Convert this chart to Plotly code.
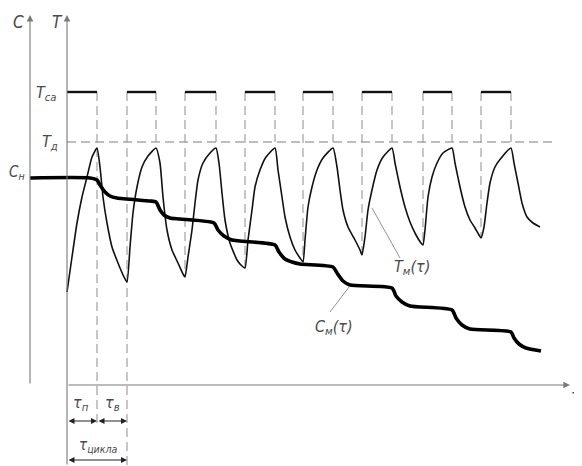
import plotly.graph_objects as go

# ---- data (schematic units; τ measured from the T axis) ----
tau_T = [0, 5, 10, 15, 20, 25, 30, 33, 36, 40, 45, 51, 57, 60, 63, 66, 70, 75, 81, 89,
         93, 96, 100, 105, 111, 116, 118, 121, 125, 128, 131, 136, 143, 149,
         152, 155, 158, 163, 170, 175, 178, 181, 185, 188, 193, 199, 208,
         211, 215, 218, 223, 228, 233, 236, 238, 241, 245, 250, 256, 266,
         270, 273, 276, 281, 288, 293, 295, 298, 301, 305, 310, 316, 325,
         328, 333, 338, 343, 349, 354, 356, 358, 361, 365, 370, 376, 385,
         388, 393, 398, 403, 408, 412, 414, 417, 420, 423, 428, 435, 444,
         447, 451, 455, 460, 466, 473]
T_m = [93, 128, 162, 188, 208, 228, 237, 218, 188, 162, 138, 122, 108, 103, 138, 172, 198, 218, 229, 237,
       222, 188, 155, 135, 122, 111, 108, 128, 155, 182, 205, 222, 232, 237,
       222, 192, 165, 142, 125, 119, 117, 145, 175, 198, 215, 228, 237,
       215, 188, 168, 148, 135, 127, 123, 145, 178, 198, 215, 227, 237,
       218, 195, 175, 158, 145, 135, 130, 148, 175, 195, 215, 228, 237,
       222, 198, 178, 163, 150, 142, 140, 155, 188, 208, 222, 232, 237,
       222, 198, 178, 165, 157, 150, 147, 158, 182, 202, 218, 228, 237,
       222, 202, 182, 168, 162, 158]

tau_C = [-37, 23, 30, 33, 38, 43, 50, 83, 89, 93, 97, 103, 113, 147, 151, 157, 165,
         208, 212, 218, 225, 233, 266, 270, 276, 283, 325, 329, 335, 343,
         385, 389, 395, 403, 444, 447, 452, 459, 474]
C_m = [207, 207, 205, 200, 193, 189, 187, 184, 183, 175, 170, 167, 166, 162, 155, 149, 145,
       140, 133, 126, 123, 121, 118, 112, 104, 100, 97, 89, 83, 79,
       75, 67, 60, 56, 53, 47, 41, 37, 34]

heat_start = [0, 60, 118, 178, 236, 295, 356, 414]
heat_end = [30, 89, 149, 208, 266, 325, 385, 444]
T_ca = 293
T_d = 243
C_n = 207

FONT = "Liberation Sans Narrow, DejaVu Sans Condensed, Roboto, sans-serif"
TXT = "#4a4a4a"
DASH = "#a8a8a8"
AX = "#7a7a7a"

fig = go.Figure()

# T_d dashed level
fig.add_trace(go.Scatter(x=[0, 488], y=[T_d, T_d], mode="lines",
                         line=dict(color=DASH, width=1.3, dash="9px,5px"), hoverinfo="skip"))

# vertical dashed lines
vx, vy = [], []
Tlookup = dict(zip(tau_T, T_m))
for i, e in enumerate(heat_end):
    bottom = -42 if i == 0 else T_d
    vx += [e, e, None]
    vy += [T_ca, bottom, None]
for i, s in enumerate(heat_start):
    if i == 0:
        continue
    bottom = -81 if i == 1 else Tlookup[s]
    vx += [s, s, None]
    vy += [T_ca, bottom, None]
fig.add_trace(go.Scatter(x=vx, y=vy, mode="lines",
                         line=dict(color=DASH, width=1.3, dash="9px,5px"), hoverinfo="skip"))

# T_ca heating segments
sx, sy = [], []
for s, e in zip(heat_start, heat_end):
    sx += [s, e, None]
    sy += [T_ca, T_ca, None]
fig.add_trace(go.Scatter(x=sx, y=sy, mode="lines",
                         line=dict(color="#111", width=2.4), hoverinfo="skip"))

# T_m curve
fig.add_trace(go.Scatter(x=tau_T, y=T_m, mode="lines",
                         line=dict(color="#111", width=1.6, shape="spline", smoothing=0.5),
                         hoverinfo="skip"))
# C_m curve
fig.add_trace(go.Scatter(x=tau_C, y=C_m, mode="lines",
                         line=dict(color="#000", width=3.6, shape="spline", smoothing=0.6),
                         hoverinfo="skip"))

# leader lines
fig.add_trace(go.Scatter(x=[305, 333, None, 282, 263], y=[177, 127, None, 98, 73], mode="lines",
                         line=dict(color="#888", width=0.9), hoverinfo="skip"))

ann = []
def arrow(x, y, ax, ay, both=False, color=AX, w=1.1):
    ann.append(dict(x=x, y=y, ax=ax, ay=ay, xref="x", yref="y", axref="x", ayref="y",
                    text="", showarrow=True, arrowhead=2, arrowsize=1.2, arrowwidth=w,
                    arrowcolor=color, standoff=0, startstandoff=0,
                    arrowside="end+start" if both else "end", startarrowhead=2,
                    startarrowsize=1.2))

# axes
arrow(-37, 370, -37, 0)
arrow(0, 370, 0, -81)
arrow(503, 0, 0, 0)
# dimension arrows
arrow(30, -36, 0, -36, both=True, color="#222", w=1.0)
arrow(60, -36, 30, -36, both=True, color="#222", w=1.0)
arrow(60, -75, 0, -75, both=True, color="#222", w=1.0)

def label(x, y, t, size=16, xanchor="center"):
    ann.append(dict(x=x, y=y, xref="x", yref="y", text=t, showarrow=False,
                    xanchor=xanchor, yanchor="middle",
                    font=dict(family=FONT, size=size, color=TXT, style="italic")))

label(-49, 363, "C", 17)
label(-10, 363, "T", 17)
label(-8, 292, "T<sub>са</sub>", 16, "right")
label(-7, 243, "T<sub>д</sub>", 16, "right")
label(-40, 213, "C<sub>н</sub>", 15, "right")
label(345, 118, "T<sub>м</sub>(τ)", 16)
label(267, 58, "C<sub>м</sub>(τ)", 16)
label(14, -18, "τ<sub>п</sub>", 16)
label(45, -18, "τ<sub>в</sub>", 16)
label(31, -60, "τ<sub>цикла</sub>", 15)
label(509, -11, "τ", 17)

fig.update_layout(
    width=574, height=458, margin=dict(l=0, r=0, t=0, b=0),
    paper_bgcolor="white", plot_bgcolor="white", showlegend=False,
    xaxis=dict(range=[-59, 515], visible=False, fixedrange=True),
    yaxis=dict(range=[-81, 377], visible=False, fixedrange=True),
    annotations=ann,
)
fig.write_html("out.html")
